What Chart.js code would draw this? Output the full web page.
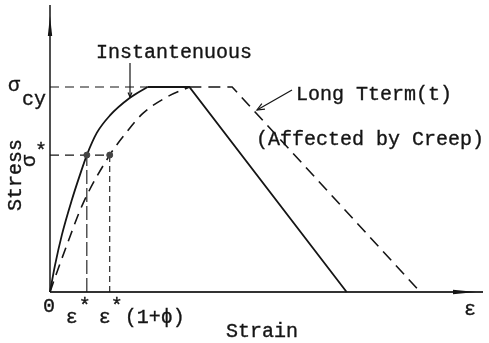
<!DOCTYPE html>
<html>
<head>
<meta charset="utf-8">
<script src="https://cdn.jsdelivr.net/npm/chart.js@4.4.0/dist/chart.umd.min.js"></script>
<style>
  html, body { margin: 0; padding: 0; background: #fff; }
  canvas { display: block; }
</style>
</head>
<body>
<canvas id="creepChart" width="489" height="343"></canvas>
<script>
// stress is normalised to sigma_cy = 1, strain in arbitrary units
const strainMax = 43.5;
const stressMax = 1.4;

const sigmaCy = 1.0;
const sigmaStar = 0.668;
const epsStar = 3.7;
const epsStarCreep = 6.0;   // eps* (1 + phi)

// instantaneous curve (rising part, then plateau and unloading)
const instStrain = [0, 0.5, 1.2, 2.2, 3.0, 3.7, 4.7, 6.0, 8.0, 9.8];
const instStress = [0, 0.13, 0.28, 0.45, 0.57, 0.668, 0.776, 0.86, 0.946, 1.0];
const instTailStrain = [9.8, 14.0, 29.8];
const instTailStress = [1.0, 1.0, 0];

// long term curve, affected by creep
const longStrain = [0, 0.5, 1.7, 3.3, 6.0, 7.7, 9.3, 11.7, 14.0];
const longStress = [0, 0.07, 0.23, 0.43, 0.668, 0.78, 0.87, 0.95, 1.0];
const longTailStrain = [14.0, 18.3, 37.2];
const longTailStress = [1.0, 1.0, 0];

// tick labels
const strainTicks = [0, epsStar, epsStarCreep];
const strainTickLabels = ['0', 'ε*', 'ε*(1+ϕ)'];
const stressTicks = [sigmaCy, sigmaStar];
const stressTickLabels = ['σcy', 'σ*'];

const FONT = "20px 'Liberation Mono', 'DejaVu Sans Mono', monospace";
const INK = '#151515';

function pts(xs, ys) {
  return xs.map((x, i) => ({ x: x, y: ys[i] }));
}

function line(xs, ys, extra) {
  return Object.assign({
    data: pts(xs, ys),
    showLine: true,
    pointRadius: 0,
    borderColor: INK,
    borderWidth: 1.6,
    fill: false,
    tension: 0,
    clip: false
  }, extra);
}

function arrowHead(ctx, x1, y1, x2, y2, len) {
  const a = Math.atan2(y2 - y1, x2 - x1);
  ctx.beginPath();
  ctx.moveTo(x2 - len * Math.cos(a - 0.4), y2 - len * Math.sin(a - 0.4));
  ctx.lineTo(x2, y2);
  ctx.lineTo(x2 - len * Math.cos(a + 0.4), y2 - len * Math.sin(a + 0.4));
  ctx.stroke();
}

// typewriter-ish text: fill plus a hairline stroke
function txt(ctx, s, x, y) {
  ctx.fillText(s, x, y);
  ctx.strokeText(s, x, y);
}

const sketchLabels = {
  id: 'sketchLabels',
  afterDatasetsDraw(chart) {
    const ctx = chart.ctx;
    const sx = chart.scales.x, sy = chart.scales.y;
    const x0 = sx.getPixelForValue(0), y0 = sy.getPixelForValue(0);

    ctx.save();
    ctx.fillStyle = INK;
    ctx.strokeStyle = INK;
    ctx.lineWidth = 1.2;

    // slim arrowheads on both axes
    ctx.beginPath();
    ctx.moveTo(453, y0 - 2.2);
    ctx.lineTo(476, y0);
    ctx.lineTo(453, y0 + 2.2);
    ctx.closePath();
    ctx.fill();
    ctx.beginPath();
    ctx.moveTo(x0 - 2.2, 36);
    ctx.lineTo(x0, 16);
    ctx.lineTo(x0 + 2.2, 36);
    ctx.closePath();
    ctx.fill();

    // pointers to the two curves
    ctx.beginPath();
    ctx.moveTo(130, 63);
    ctx.lineTo(130, 97);
    ctx.stroke();
    arrowHead(ctx, 130, 63, 130, 97, 5);
    ctx.beginPath();
    ctx.moveTo(292, 90);
    ctx.lineTo(257, 110);
    ctx.stroke();
    arrowHead(ctx, 292, 90, 257, 110, 8);

    ctx.font = FONT;
    ctx.lineWidth = 0.35;
    ctx.textAlign = 'left';
    ctx.textBaseline = 'alphabetic';
    txt(ctx, 'Instantenuous', 96, 58);
    txt(ctx, 'Long Tterm(t)', 296, 100);
    txt(ctx, '(Affected by Creep)', 256, 145);
    txt(ctx, 'Strain', 226, 337);
    txt(ctx, 'ε', 464, 315);

    // strain ticks
    const p0 = sx.getPixelForValue(strainTicks[0]);
    txt(ctx, strainTickLabels[0], p0 - 7, 312);
    const p1 = sx.getPixelForValue(strainTicks[1]);
    txt(ctx, strainTickLabels[1][0], p1 - 21, 323);
    txt(ctx, strainTickLabels[1][1], p1 - 8, 312);
    const p2 = sx.getPixelForValue(strainTicks[2]);
    txt(ctx, strainTickLabels[2][0], p2 - 11, 323);
    txt(ctx, strainTickLabels[2][1], p2 + 1, 312);
    txt(ctx, strainTickLabels[2].slice(2), p2 + 15, 323);

    // stress ticks
    const q0 = sy.getPixelForValue(stressTicks[0]);
    txt(ctx, stressTickLabels[0][0], 8, q0 + 4);
    txt(ctx, stressTickLabels[0].slice(1), 22, q0 + 18);
    const q1 = sy.getPixelForValue(stressTicks[1]);
    txt(ctx, stressTickLabels[1][1], 35, q1 + 2);
    ctx.save();
    ctx.translate(30, q1 + 6);
    ctx.rotate(-Math.PI / 2);
    ctx.textAlign = 'center';
    ctx.textBaseline = 'middle';
    txt(ctx, stressTickLabels[1][0], 0, 0);
    ctx.restore();

    // axis title, written upwards
    ctx.save();
    ctx.translate(16, 175);
    ctx.rotate(-Math.PI / 2);
    ctx.textAlign = 'center';
    ctx.textBaseline = 'middle';
    txt(ctx, 'Stress', 0, 0);
    ctx.restore();

    ctx.restore();
  }
};

new Chart(document.getElementById('creepChart'), {
  type: 'scatter',
  data: {
    datasets: [
      // marked points at sigma*
      {
        data: pts([epsStar, epsStarCreep], [sigmaStar, sigmaStar]),
        showLine: false,
        pointRadius: 3,
        pointBackgroundColor: '#444',
        pointBorderColor: '#444',
        clip: false
      },
      line(instStrain, instStress, { cubicInterpolationMode: 'monotone', borderWidth: 1.8 }),
      line(instTailStrain, instTailStress, { borderWidth: 1.8 }),
      line(longStrain, longStress, { cubicInterpolationMode: 'monotone', borderDash: [11, 7] }),
      line(longTailStrain, longTailStress, { borderDash: [12, 7] }),
      // guide lines
      line([0, instTailStrain[0]], [sigmaCy, sigmaCy], { borderWidth: 1.2, borderDash: [9, 6] }),
      line([0, epsStarCreep], [sigmaStar, sigmaStar], { borderWidth: 1.2, borderDash: [9, 6] }),
      line([epsStar, epsStar], [0, sigmaStar], { borderWidth: 1.1, borderDash: [14, 4] }),
      line([epsStarCreep, epsStarCreep], [0, sigmaStar], { borderWidth: 1.1, borderDash: [6, 4] }),
      // axes
      line([0, strainMax], [0, 0], { borderWidth: 2, borderColor: '#333' }),
      line([0, 0], [0, stressMax], { borderWidth: 1.5 })
    ]
  },
  options: {
    responsive: false,
    animation: false,
    layout: { padding: { left: 50, right: 6, top: 5, bottom: 51 } },
    plugins: {
      legend: { display: false },
      tooltip: { enabled: false }
    },
    scales: {
      x: { type: 'linear', display: false, min: 0, max: strainMax },
      y: { type: 'linear', display: false, min: 0, max: stressMax }
    }
  },
  plugins: [sketchLabels]
});
</script>
</body>
</html>
